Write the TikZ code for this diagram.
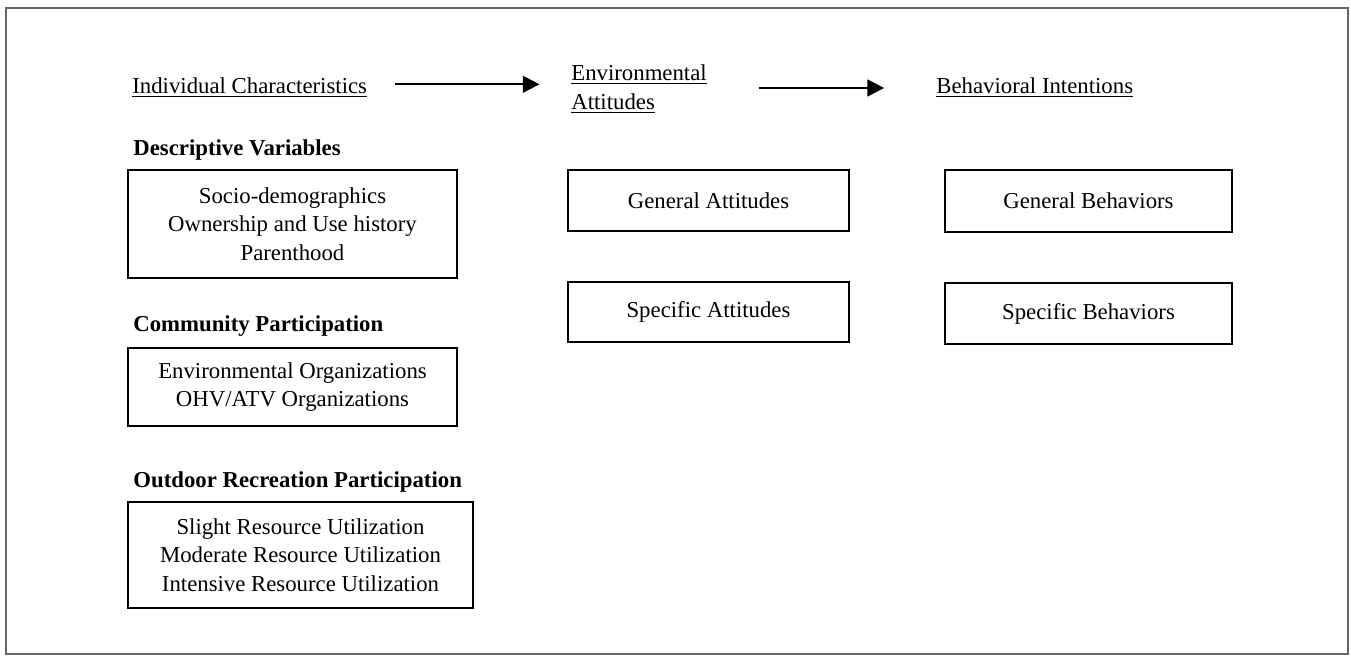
\documentclass[tikz,border=0pt]{standalone}
\usepackage{fontspec}
\setmainfont{Liberation Serif}
\usetikzlibrary{arrows.meta}
\tikzset{%
  frame/.style    = {draw=black!60, line width=1.1pt},%
  stage/.style    = {inner sep=0pt, align=left, anchor=west},%
  group/.style    = {inner sep=0pt, anchor=west,%
                     font=\fontsize{12.3}{15.4}\selectfont\bfseries},%
  varbox/.style   = {shape=rectangle, draw, line width=1.1pt,%
                     align=center, inner sep=0pt},%
  flow/.style     = {line width=1.2pt, -{Triangle[length=9pt,width=9pt]}}%
}

\begin{document}
\begin{tikzpicture}[x=0.54pt,y=-0.54pt,every node/.style={font=\fontsize{12.3}{15.4}\selectfont}]
  \useasboundingbox (0,0) rectangle (1351,656);
  \draw[frame] (6,8) rectangle (1348,654);
  % stage headings
  \node[stage] (ic) at (132,88) {\underline{Individual Characteristics}};
  \node[stage] (ea) at (571,89) {\underline{Environmental}\\\underline{Attitudes}};
  \node[stage] (bi) at (936,88) {\underline{Behavioral Intentions}};
  \draw[flow] ([xshift=15pt,yshift=2pt]ic.east) -- ([xshift=-17pt,yshift=2pt]ic.east -| ea.west);
  \draw[flow] ([xshift=28pt]ea.east |- bi.west) -- ([xshift=-28pt]bi.west);
  % individual characteristics
  \node[group] (dv) at (133,150) {Descriptive Variables};
  \node[varbox, minimum width=177.7pt, minimum height=58.3pt] (socio) at (292.5,224)
    {Socio-demographics\\Ownership and Use history\\Parenthood};
  \node[group] (cp) at (133,326) {Community Participation};
  \node[varbox, minimum width=177.7pt, minimum height=42.1pt] (org) at (292.5,387)
    {Environmental Organizations\\OHV/ATV Organizations};
  \node[group] (orp) at (133,482) {Outdoor Recreation Participation};
  \node[varbox, minimum width=186.3pt, minimum height=57.2pt] (res) at (300.5,555)
    {Slight Resource Utilization\\Moderate Resource Utilization\\Intensive Resource Utilization};
  % attitudes
  \node[varbox, minimum width=151.7pt, minimum height=33pt] (ga) at (708.5,200.5) {General Attitudes};
  \node[varbox, minimum width=151.7pt, minimum height=32.4pt] (sa) at (708.5,312) {Specific Attitudes};
  % behaviors
  \node[varbox, minimum width=155pt, minimum height=33.5pt] (gb) at (1088.5,201) {General Behaviors};
  \node[varbox, minimum width=155pt, minimum height=33pt] (sb) at (1088.5,313.5) {Specific Behaviors};
\end{tikzpicture}
\end{document}
